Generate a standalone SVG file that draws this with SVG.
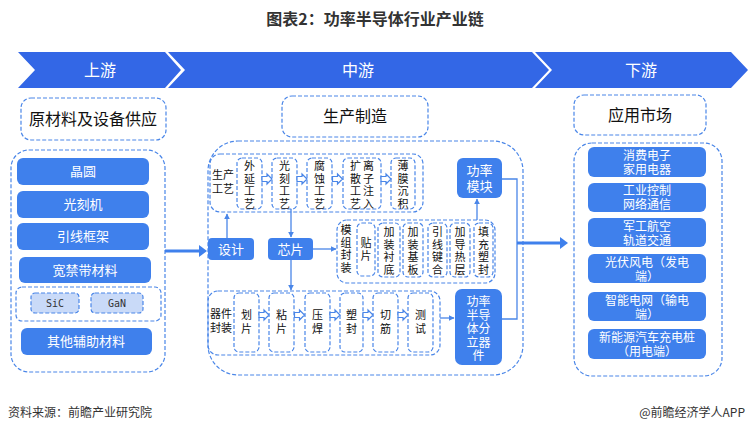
<svg xmlns="http://www.w3.org/2000/svg" width="751" height="437" viewBox="0 0 751 437">
<defs>
<style>
text{font-family:"Noto Sans CJK SC","Noto Sans",sans-serif;}
.title{font-size:16px;font-weight:bold;fill:#333;}
.band{fill:#3367E6;}
.bandt{font-size:16px;fill:#fff;text-anchor:middle;}
.dash{fill:#fff;stroke:#4A86E8;stroke-width:1.2;stroke-dasharray:4 2;}
.dashn{fill:none;stroke:#4A86E8;stroke-width:1.2;stroke-dasharray:4 2;}
.blue{fill:#3F80EC;}
.light{fill:#C9DAF8;stroke:#4A86E8;stroke-width:1.2;stroke-dasharray:4 2;}
.wt{fill:#fff;font-size:13px;text-anchor:middle;}
.wt12{fill:#fff;font-size:12px;text-anchor:middle;}
.bt{fill:#111;font-size:11px;text-anchor:middle;}
.hd{fill:#111;font-size:16px;text-anchor:middle;}
.ln{fill:none;stroke:#4A86E8;stroke-width:1.3;}
.thick{fill:none;stroke:#3F80EC;stroke-width:3;}
.foot{font-size:12px;fill:#333;}
.ha{fill:#fff;stroke:#4A86E8;stroke-width:1.2;}
</style>
<path id="hollow" d="M-5,-2.5 L0,-2.5 L0,-5 L5,0 L0,5 L0,2.5 L-5,2.5 Z"/>
<marker id="ah" viewBox="0 0 10 10" refX="9" refY="5" markerWidth="6" markerHeight="6" orient="auto" markerUnits="userSpaceOnUse">
<path d="M0,0 L10,5 L0,10 Z" fill="#4A86E8"/>
</marker>
</defs>
<rect width="751" height="437" fill="#fff"/>
<text class="title" x="375" y="25" text-anchor="middle">图表2：功率半导体行业产业链</text>

<g id="banner">
<path class="band" d="M18,52 L165,52 L181,70 L165,88 L18,88 L35,70 Z"/>
<path class="band" d="M168,52 L532,52 L549,70 L532,88 L168,88 L185,70 Z"/>
<path class="band" d="M535,52 L731,52 L748,70 L731,88 L535,88 L552,70 Z"/>
<text class="bandt" x="100" y="76">上游</text>
<text class="bandt" x="358" y="76">中游</text>
<text class="bandt" x="641" y="76">下游</text>
</g>

<g id="upstream-head">
<rect class="dash" x="21" y="98" width="145" height="42" rx="10"/>
<text class="hd" x="93" y="125">原材料及设备供应</text>
</g>
<g id="upstream">
<rect class="dashn" x="11" y="150" width="154" height="222" rx="18"/>
<g id="wafer"><rect class="blue" x="17" y="158" width="132" height="27" rx="6"/><text class="wt" x="83" y="176">晶圆</text></g>
<g id="litho"><rect class="blue" x="17" y="191" width="132" height="27" rx="6"/><text class="wt" x="83" y="209">光刻机</text></g>
<g id="leadframe"><rect class="blue" x="17" y="223" width="132" height="27" rx="6"/><text class="wt" x="83" y="241">引线框架</text></g>
<g id="wbg"><rect class="blue" x="19" y="257" width="132" height="26" rx="6"/><text class="wt" x="85" y="275">宽禁带材料</text></g>
<g id="wbg-group">
<rect class="dashn" x="16" y="287" width="145" height="34" rx="6"/>
<rect class="light" x="31" y="293" width="48" height="20" rx="4"/>
<text x="55" y="307" text-anchor="middle" style="font-family:'DejaVu Sans Mono','Liberation Mono',monospace;font-size:10px;fill:#333">SiC</text>
<rect class="light" x="91" y="293" width="52" height="20" rx="4"/>
<text x="117" y="307" text-anchor="middle" style="font-family:'DejaVu Sans Mono','Liberation Mono',monospace;font-size:10px;fill:#333">GaN</text>
</g>
<g id="aux"><rect class="blue" x="21" y="328" width="131" height="27" rx="6"/><text class="wt" x="86" y="346">其他辅助材料</text></g>
</g>

<g id="mid-head">
<rect class="dash" x="282" y="96" width="146" height="41" rx="10"/>
<text class="hd" x="355" y="122">生产制造</text>
</g>
<g id="midstream">
<rect class="dashn" x="208" y="141" width="315" height="234" rx="30"/>
</g>

<g id="process">
<rect class="dashn" x="210" y="154" width="213" height="58" rx="10"/>
<text class="bt" x="223" y="179"><tspan x="223">生产</tspan><tspan x="223" dy="14">工艺</tspan></text>
<g id="epi"><rect class="dashn" x="237" y="158" width="25" height="51" rx="5"/>
<text class="bt" x="249.5" y="170"><tspan x="249.5">外</tspan><tspan x="249.5" dy="12.5">延</tspan><tspan x="249.5" dy="12.5">工</tspan><tspan x="249.5" dy="12.5">艺</tspan></text></g>
<g id="photo"><rect class="dashn" x="272" y="158" width="25" height="51" rx="5"/>
<text class="bt" x="284.5" y="170"><tspan x="284.5">光</tspan><tspan x="284.5" dy="12.5">刻</tspan><tspan x="284.5" dy="12.5">工</tspan><tspan x="284.5" dy="12.5">艺</tspan></text></g>
<g id="etch"><rect class="dashn" x="307" y="158" width="25" height="51" rx="5"/>
<text class="bt" x="319.5" y="170"><tspan x="319.5">腐</tspan><tspan x="319.5" dy="12.5">蚀</tspan><tspan x="319.5" dy="12.5">工</tspan><tspan x="319.5" dy="12.5">艺</tspan></text></g>
<g id="diff"><rect class="dashn" x="343" y="158" width="38" height="51" rx="5"/>
<text class="bt" x="355.5" y="170"><tspan x="355.5">扩</tspan><tspan x="355.5" dy="12.5">散</tspan><tspan x="355.5" dy="12.5">工</tspan><tspan x="355.5" dy="12.5">艺</tspan></text>
<text class="bt" x="368.5" y="170"><tspan x="368.5">离</tspan><tspan x="368.5" dy="12.5">子</tspan><tspan x="368.5" dy="12.5">注</tspan><tspan x="368.5" dy="12.5">入</tspan></text></g>
<g id="film"><rect class="dashn" x="391" y="158" width="24" height="51" rx="5"/>
<text class="bt" x="403" y="170"><tspan x="403">薄</tspan><tspan x="403" dy="12.5">膜</tspan><tspan x="403" dy="12.5">沉</tspan><tspan x="403" dy="12.5">积</tspan></text></g>
<use href="#hollow" class="ha" x="267" y="179"/>
<use href="#hollow" class="ha" x="302" y="179"/>
<use href="#hollow" class="ha" x="337.5" y="179"/>
<use href="#hollow" class="ha" x="386" y="179"/>
</g>

<g id="module"><rect class="blue" x="457" y="158" width="45" height="40" rx="6"/>
<text class="wt" x="479.5" y="175"><tspan x="479.5">功率</tspan><tspan x="479.5" dy="16">模块</tspan></text></g>

<g id="design"><rect class="blue" x="208" y="238" width="46" height="22" rx="4"/><text class="wt" x="231" y="254">设计</text></g>
<g id="chip"><rect class="blue" x="268" y="238" width="45" height="22" rx="4"/><text class="wt" x="290.5" y="254">芯片</text></g>

<g id="module-pack">
<rect class="dashn" x="337" y="220" width="158" height="63" rx="10"/>
<text class="bt" x="346" y="234"><tspan x="346">模</tspan><tspan x="346" dy="12.7">组</tspan><tspan x="346" dy="12.7">封</tspan><tspan x="346" dy="12.7">装</tspan></text>
<rect class="dashn" x="357" y="223" width="18" height="53" rx="5"/>
<text class="bt" x="366" y="247"><tspan x="366">贴</tspan><tspan x="366" dy="13">片</tspan></text>
<rect class="dashn" x="378" y="223" width="22" height="54" rx="5"/>
<text class="bt" x="389" y="236"><tspan x="389">加</tspan><tspan x="389" dy="12.7">装</tspan><tspan x="389" dy="12.7">衬</tspan><tspan x="389" dy="12.7">底</tspan></text>
<rect class="dashn" x="403" y="223" width="20" height="54" rx="5"/>
<text class="bt" x="413" y="236"><tspan x="413">加</tspan><tspan x="413" dy="12.7">装</tspan><tspan x="413" dy="12.7">基</tspan><tspan x="413" dy="12.7">板</tspan></text>
<rect class="dashn" x="428" y="223" width="19" height="54" rx="5"/>
<text class="bt" x="437.5" y="236"><tspan x="437.5">引</tspan><tspan x="437.5" dy="12.7">线</tspan><tspan x="437.5" dy="12.7">键</tspan><tspan x="437.5" dy="12.7">合</tspan></text>
<rect class="dashn" x="450" y="223" width="20" height="54" rx="5"/>
<text class="bt" x="460" y="236"><tspan x="460">加</tspan><tspan x="460" dy="12.7">导</tspan><tspan x="460" dy="12.7">热</tspan><tspan x="460" dy="12.7">层</tspan></text>
<rect class="dashn" x="474" y="223" width="19" height="54" rx="5"/>
<text class="bt" x="483.5" y="236"><tspan x="483.5">填</tspan><tspan x="483.5" dy="12.7">充</tspan><tspan x="483.5" dy="12.7">塑</tspan><tspan x="483.5" dy="12.7">封</tspan></text>
</g>

<g id="device-pack">
<rect class="dashn" x="208" y="291" width="232" height="64" rx="10"/>
<text class="bt" x="221" y="318"><tspan x="221">器件</tspan><tspan x="221" dy="14">封装</tspan></text>
<rect class="dashn" x="234" y="293" width="25" height="59" rx="5"/>
<text class="bt" x="246.5" y="319"><tspan x="246.5">划</tspan><tspan x="246.5" dy="14">片</tspan></text>
<rect class="dashn" x="269" y="293" width="25" height="59" rx="5"/>
<text class="bt" x="281.5" y="319"><tspan x="281.5">粘</tspan><tspan x="281.5" dy="14">片</tspan></text>
<rect class="dashn" x="305" y="293" width="25" height="59" rx="5"/>
<text class="bt" x="317.5" y="319"><tspan x="317.5">压</tspan><tspan x="317.5" dy="14">焊</tspan></text>
<rect class="dashn" x="340" y="293" width="23" height="59" rx="5"/>
<text class="bt" x="351.5" y="319"><tspan x="351.5">塑</tspan><tspan x="351.5" dy="14">封</tspan></text>
<rect class="dashn" x="373" y="293" width="25" height="59" rx="5"/>
<text class="bt" x="385.5" y="319"><tspan x="385.5">切</tspan><tspan x="385.5" dy="14">筋</tspan></text>
<rect class="dashn" x="408" y="293" width="25" height="59" rx="5"/>
<text class="bt" x="420.5" y="319"><tspan x="420.5">测</tspan><tspan x="420.5" dy="14">试</tspan></text>
<use href="#hollow" class="ha" x="264" y="315"/>
<use href="#hollow" class="ha" x="299.5" y="315"/>
<use href="#hollow" class="ha" x="335" y="315"/>
<use href="#hollow" class="ha" x="368" y="315"/>
<use href="#hollow" class="ha" x="403" y="315"/>
</g>

<g id="discrete"><rect class="blue" x="455" y="289" width="47" height="76" rx="7"/>
<text class="wt12" x="478.5" y="306"><tspan x="478.5">功率</tspan><tspan x="478.5" dy="13.5">半导</tspan><tspan x="478.5" dy="13.5">体分</tspan><tspan x="478.5" dy="13.5">立器</tspan><tspan x="478.5" dy="13.5">件</tspan></text></g>

<g id="down-head">
<rect class="dash" x="574" y="95" width="132" height="40" rx="10"/>
<text class="hd" x="640" y="121">应用市场</text>
</g>
<g id="downstream">
<rect class="dashn" x="574" y="143" width="148" height="233" rx="18"/>
<g id="consumer"><rect class="blue" x="588" y="147" width="118" height="30" rx="6"/>
<text class="wt12" x="647" y="160"><tspan x="647">消费电子</tspan><tspan x="647" dy="14">家用电器</tspan></text></g>
<g id="industry"><rect class="blue" x="588" y="183" width="118" height="29" rx="6"/>
<text class="wt12" x="647" y="195"><tspan x="647">工业控制</tspan><tspan x="647" dy="14">网络通信</tspan></text></g>
<g id="military"><rect class="blue" x="588" y="218" width="118" height="29" rx="6"/>
<text class="wt12" x="647" y="231"><tspan x="647">军工航空</tspan><tspan x="647" dy="14">轨道交通</tspan></text></g>
<g id="pv"><rect class="blue" x="588" y="254" width="118" height="29" rx="6"/>
<text class="wt12" x="647" y="267"><tspan x="647">光伏风电（发电</tspan><tspan x="647" dy="14">端）</tspan></text></g>
<g id="grid"><rect class="blue" x="588" y="292" width="118" height="29" rx="6"/>
<text class="wt12" x="647" y="305"><tspan x="647">智能电网（输电</tspan><tspan x="647" dy="14">端）</tspan></text></g>
<g id="ev"><rect class="blue" x="588" y="329" width="118" height="30" rx="6"/>
<text class="wt12" x="647" y="342"><tspan x="647">新能源汽车充电桩</tspan><tspan x="647" dy="14">（用电端）</tspan></text></g>
</g>

<g id="connectors">
<path class="thick" d="M165,251 L200,251"/>
<path d="M199,245 L207,251 L199,257 Z" fill="#3F80EC"/>
<path class="ln" d="M227,238 L227,214" marker-end="url(#ah)"/>
<path class="ln" d="M291,209 L291,237" marker-end="url(#ah)"/>
<path class="ln" d="M313,249 L336,249" marker-end="url(#ah)"/>
<path class="ln" d="M291,260 L291,290" marker-end="url(#ah)"/>
<path class="ln" d="M477,220 L477,199" marker-end="url(#ah)"/>
<path class="ln" d="M440,318 L454,318" marker-end="url(#ah)"/>
<path class="ln" d="M502,179 L517,179 L517,319 L502,319"/>
<path class="thick" d="M517,243 L561,243"/>
<path d="M560,237 L568,243 L560,249 Z" fill="#3F80EC"/>
</g>

<text class="foot" x="8" y="417">资料来源：前瞻产业研究院</text>
<text class="foot" x="745" y="417" text-anchor="end">@前瞻经济学人APP</text>
</svg>
